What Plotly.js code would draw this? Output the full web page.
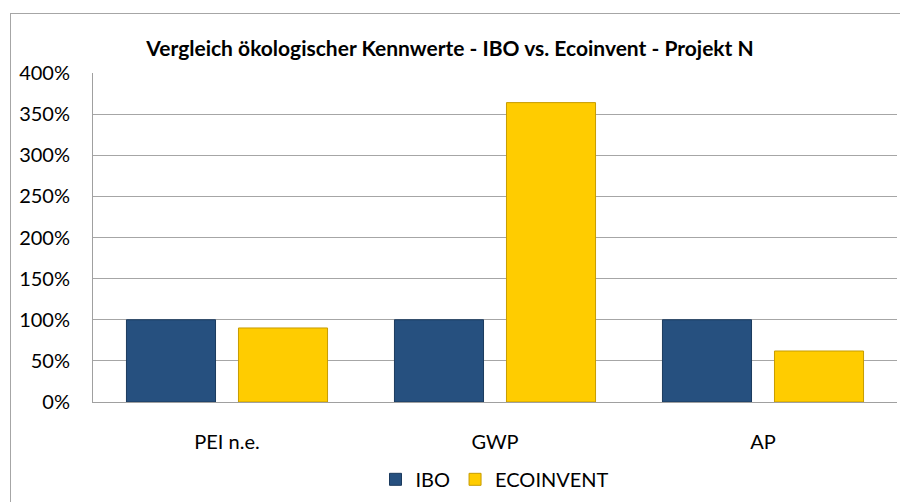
<!DOCTYPE html>
<html>
<head>
<meta charset="utf-8">
<script src="https://cdn.plot.ly/plotly-3.0.1.min.js"></script>
<style>
  body { margin: 0; background: #fff; }
  #wrap { position: relative; width: 900px; height: 502px; }
  #frame { position: absolute; left: 10px; top: 13px; width: 889px; height: 500px;
           border: 1px solid #a6a6a6; pointer-events: none; }
</style>
</head>
<body>
<div id="wrap">
  <div id="chart" style="width:900px;height:502px;"></div>
  <div id="frame"></div>
</div>
<script>
// data
var categories = ['PEI n.e.', 'GWP', 'AP'];
var ibo_values = [1.00, 1.00, 1.00];
var ecoinvent_values = [0.90, 3.64, 0.62];

var fontFamily = 'Lato, "Open Sans", sans-serif';

var trace_ibo = {
    x: categories,
    y: ibo_values,
    name: 'IBO',
    type: 'bar',
    marker: {color: '#26507f', line: {color: '#1b3a5e', width: 1}},
    hoverinfo: 'skip'
};

var trace_eco = {
    x: categories,
    y: ecoinvent_values,
    name: 'ECOINVENT',
    type: 'bar',
    marker: {color: '#ffcc00', line: {color: '#c79c00', width: 1}},
    hoverinfo: 'skip'
};

var layout = {
    width: 900,
    height: 502,
    margin: {l: 93, r: 3, t: 73, b: 97},
    paper_bgcolor: '#ffffff',
    plot_bgcolor: '#ffffff',
    font: {family: fontFamily, size: 20, color: '#000000'},
    barmode: 'group',
    bargap: 0.164,
    bargroupgap: 0.205,
    title: {
        text: '<b>Vergleich ökologischer Kennwerte - IBO vs. Ecoinvent - Projekt N</b>',
        font: {family: fontFamily, size: 21, color: '#000000'},
        x: 0.5, xref: 'container', xanchor: 'center',
        y: 0.904, yref: 'container', yanchor: 'middle'
    },
    xaxis: {
        showgrid: false,
        showline: true,
        linecolor: '#a0a0a0',
        linewidth: 1,
        ticks: '',
        ticklabelstandoff: 22,
        tickfont: {size: 20}
    },
    yaxis: {
        range: [0, 4],
        dtick: 0.5,
        tickformat: '.0%',
        showgrid: true,
        gridcolor: '#a6a6a6',
        gridwidth: 1,
        zeroline: false,
        showline: true,
        linecolor: '#a0a0a0',
        linewidth: 1,
        ticks: '',
        ticklabelstandoff: 18,
        tickfont: {size: 20}
    },
    showlegend: true,
    legend: {
        orientation: 'h',
        x: 0.5, xanchor: 'center',
        y: -0.235, yanchor: 'middle',
        font: {size: 20},
        itemwidth: 30,
        traceorder: 'normal'
    }
};

Plotly.newPlot('chart', [trace_ibo, trace_eco], layout, {displayModeBar: false, staticPlot: true});
</script>
</body>
</html>
